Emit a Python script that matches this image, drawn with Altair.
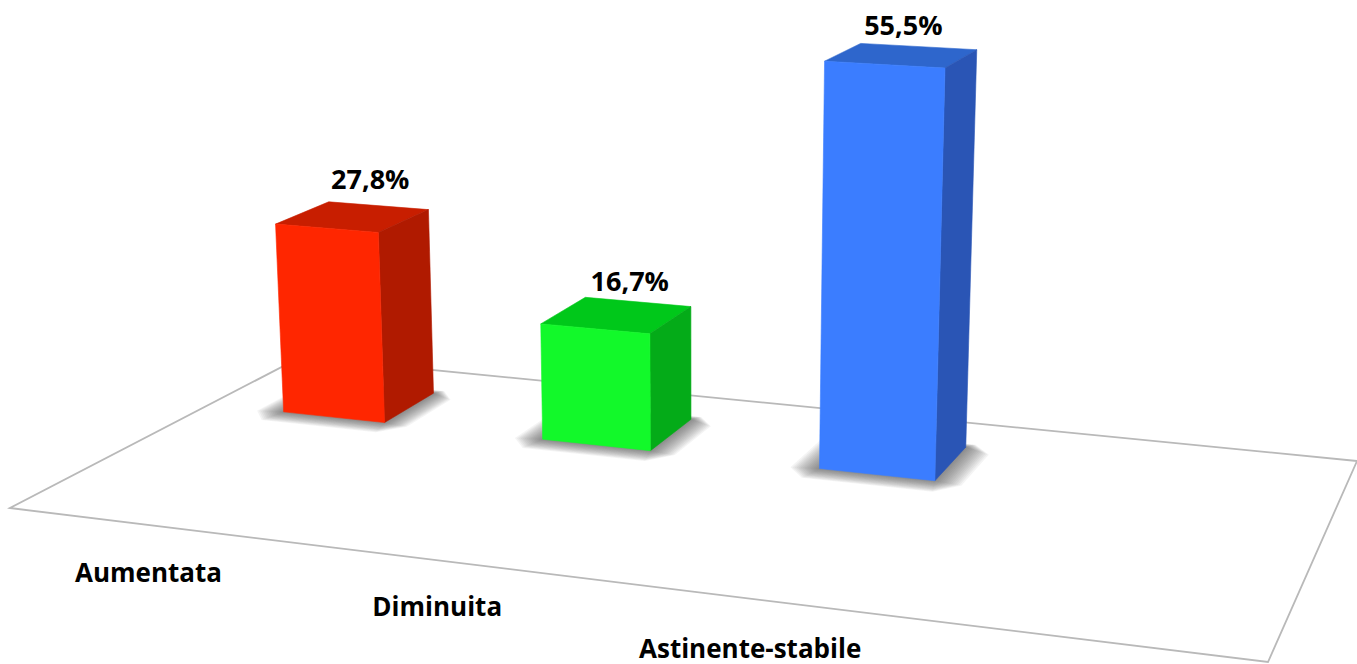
import altair as alt
import numpy as np

# Values shown by the bars, in percent
categories = ["Aumentata", "Diminuita", "Astinente-stabile"]
percentages = [27.8, 16.7, 55.5]
value_labels = ["27,8%", "16,7%", "55,5%"]

# Face colours of each bar
front_colors = ["#ff2600", "#12f92a", "#3b7dff"]
top_colors = ["#c81e00", "#00c81a", "#2e66cc"]
side_colors = ["#b01a00", "#04ab18", "#2a55b5"]

# Camera for the oblique view: floor coordinates (u across, v in depth, both 0..1)
# and height in percent map to the page through this homogeneous matrix.
CAMERA = np.array([
    [1076.0132, 352.2186, -0.53816, 10.0],
    [58.98797, -78.39191, -7.74396, 508.0],
    [-0.143523, 0.203384, -0.000769, 1.0],
])
WIDTH, HEIGHT = 1357, 664

# Bar footprints on the floor
BAR_START, BAR_STEP, BAR_WIDTH = 0.0744, 0.2516, 0.1
BAR_FRONT, BAR_BACK = 0.647, 0.852

# Text offsets from the projected anchor points, in pixels
VALUE_DX, VALUE_DY = [-8, -8, -15], [-25, -19, -20]
CATEGORY_DX, CATEGORY_DY = [2, -1, -3], [49, 48, 51]


def project(u, v, z=0.0):
    x, y, w = CAMERA @ np.array([u, v, z, 1.0])
    return [round(float(x / w), 2), round(float(y / w), 2)]


def feature(points, **props):
    ring = [project(*p) for p in points]
    return {
        "type": "Feature",
        "geometry": {"type": "Polygon", "coordinates": [ring + [ring[0]]]},
        "properties": props,
    }


def quad(u0, u1, v0, v1, z=0.0):
    return [(u0, v0, z), (u1, v0, z), (u1, v1, z), (u0, v1, z)]


def chamfered(u0, u1, v0, v1, cu, cv):
    # Footprint with cut corners, so that stacked copies fade out softly
    return [
        (u0 + cu, v0), (u1 - cu, v0), (u1, v0 + cv), (u1, v1 - cv),
        (u1 - cu, v1), (u0 + cu, v1), (u0, v1 - cv), (u0, v0 + cv),
    ]


# The whole page as an invisible polygon keeps the identity projection at 1:1
page = {
    "type": "Feature",
    "geometry": {
        "type": "Polygon",
        "coordinates": [[[0, 0], [WIDTH, 0], [WIDTH, HEIGHT], [0, HEIGHT], [0, 0]]],
    },
    "properties": {"fill": "transparent", "opacity": 0},
}

shadows, faces, value_rows, category_rows = [], [], [], []
SHADOW_LAYERS = 14
for i, value in enumerate(percentages):
    u0 = BAR_START + i * BAR_STEP
    u1 = u0 + BAR_WIDTH
    mid = (u0 + u1) / 2
    for k in range(SHADOW_LAYERS):
        t = 1 - k / SHADOW_LAYERS
        shadows.append(feature(
            chamfered(u0 - 0.024 * t, u1 + 0.024 * t, BAR_FRONT - 0.06 * t, BAR_BACK + 0.02 * t,
                      0.018 * t, 0.05 * t),
            fill="#404040", opacity=0.06,
        ))
    faces.append(feature(quad(u0, u1, BAR_FRONT, BAR_BACK, value), fill=top_colors[i], opacity=1))
    faces.append(feature(
        [(u1, BAR_FRONT, 0), (u1, BAR_BACK, 0), (u1, BAR_BACK, value), (u1, BAR_FRONT, value)],
        fill=side_colors[i], opacity=1,
    ))
    faces.append(feature(
        [(u0, BAR_FRONT, 0), (u1, BAR_FRONT, 0), (u1, BAR_FRONT, value), (u0, BAR_FRONT, value)],
        fill=front_colors[i], opacity=1,
    ))
    px, py = project(mid, BAR_BACK, value)
    value_rows.append({"x": px + VALUE_DX[i], "y": py + VALUE_DY[i], "label": value_labels[i]})
    px, py = project(mid, 0)
    category_rows.append({"x": px + CATEGORY_DX[i], "y": py + CATEGORY_DY[i], "label": categories[i]})

floor = feature(quad(0, 1, 0, 1), fill="transparent", opacity=1)
fill_enc = alt.Fill("properties.fill:N", scale=None, legend=None)
opacity_enc = alt.Opacity("properties.opacity:Q", scale=None, legend=None)

page_layer = alt.Chart(alt.Data(values=[page])).mark_geoshape(strokeWidth=0).encode(
    fill=fill_enc, opacity=opacity_enc
).project(type="identity")
floor_layer = alt.Chart(alt.Data(values=[floor])).mark_geoshape(
    filled=False, stroke="#b9b9b9", strokeWidth=1.8
).project(type="identity")
shadow_layer = alt.Chart(alt.Data(values=shadows)).mark_geoshape(strokeWidth=0).encode(
    fill=fill_enc, opacity=opacity_enc
).project(type="identity")
face_layer = alt.Chart(alt.Data(values=faces)).mark_geoshape(strokeWidth=0.6).encode(
    fill=fill_enc,
    stroke=alt.Stroke("properties.fill:N", scale=None, legend=None),
).project(type="identity")

x_enc = alt.X("x:Q", scale=alt.Scale(domain=[0, WIDTH], nice=False, zero=False), axis=None)
y_enc = alt.Y("y:Q", scale=alt.Scale(domain=[HEIGHT, 0], nice=False, zero=False), axis=None)


def text_layer(rows, size):
    return alt.Chart(alt.Data(values=rows)).mark_text(
        font="Open Sans", fontWeight="bold", fontSize=size, color="#000000",
        align="center", baseline="middle",
    ).encode(x=x_enc, y=y_enc, text="label:N")


chart = alt.layer(
    page_layer,
    floor_layer,
    shadow_layer,
    face_layer,
    text_layer(value_rows, 27),
    text_layer(category_rows, 26),
).properties(
    width=WIDTH, height=HEIGHT, padding=0, autosize=alt.AutoSizeParams(type="none"),
    background="#ffffff",
).configure_view(strokeWidth=0)

chart.save("out.html", embed_options={"renderer": "svg", "actions": False})
